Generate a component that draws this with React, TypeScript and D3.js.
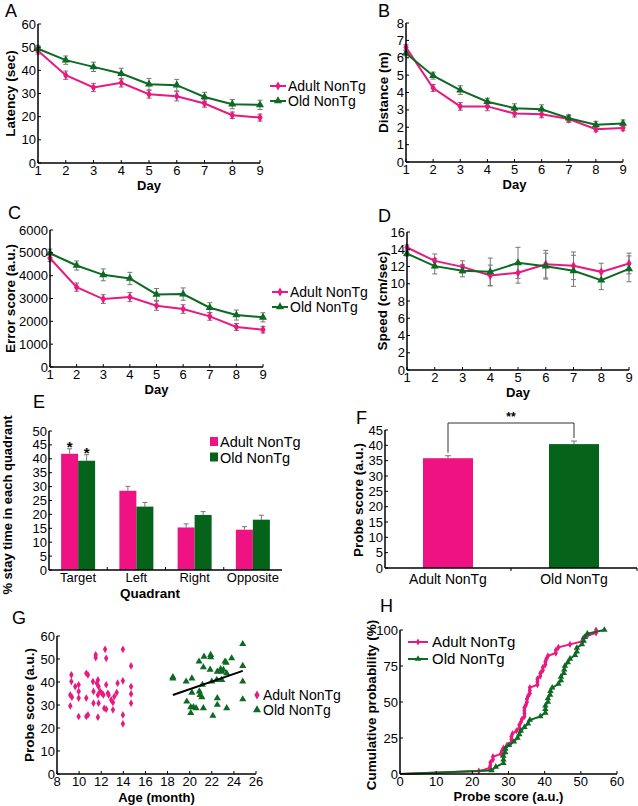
import React from 'react';
import * as d3 from 'd3';

const FONT = '"Liberation Sans", Arial, sans-serif';
const PINK = '#e8197f';
const GREEN = '#0c6a22';
const BAR_PINK = '#ef1283';
const BAR_GREEN = '#06641a';
const ERR = '#777777';
const TICK_FS = 13;

const days = [1, 2, 3, 4, 5, 6, 7, 8, 9];
const groupNames = ['Adult NonTg', 'Old NonTg'];

// A: latency (sec)
const latencyAdult = [48.5, 37.9, 32.6, 34.6, 29.7, 28.8, 25.7, 20.6, 19.6];
const latencyAdultErr = [1.5, 1.8, 1.8, 1.8, 1.7, 2.0, 1.6, 1.4, 1.5];
const latencyOld = [49.3, 44.4, 41.5, 38.6, 34.0, 33.6, 28.5, 25.4, 25.1];
const latencyOldErr = [1.5, 1.8, 2.0, 2.3, 2.5, 2.5, 2.0, 2.0, 2.0];

// B: distance (m)
const distanceAdult = [6.6, 4.26, 3.2, 3.2, 2.79, 2.75, 2.47, 1.89, 1.95];
const distanceAdultErr = [0.15, 0.2, 0.22, 0.25, 0.2, 0.2, 0.2, 0.15, 0.15];
const distanceOld = [6.26, 4.97, 4.14, 3.47, 3.1, 3.04, 2.52, 2.14, 2.22];
const distanceOldErr = [0.15, 0.2, 0.25, 0.2, 0.25, 0.25, 0.2, 0.2, 0.2];

// C: error score (a.u.)
const errorAdult = [4764, 3498, 2975, 3062, 2684, 2538, 2218, 1753, 1636];
const errorAdultErr = [150, 180, 190, 200, 200, 190, 170, 150, 140];
const errorOld = [4982, 4444, 4036, 3876, 3178, 3193, 2596, 2276, 2175];
const errorOldErr = [180, 200, 260, 270, 260, 270, 220, 220, 200];

// D: speed (cm/sec)
const speedAdult = [14.2, 12.65, 11.96, 10.96, 11.27, 12.27, 12.08, 11.38, 12.35];
const speedAdultErr = [0.3, 0.8, 0.7, 1.2, 1.2, 1.6, 1.6, 1.0, 1.2];
const speedOld = [13.5, 12.04, 11.5, 11.38, 12.42, 12.04, 11.5, 10.42, 11.73];
const speedOldErr = [0.3, 0.9, 0.7, 1.6, 1.8, 1.5, 1.8, 1.1, 1.5];

// E: % stay time per quadrant
const quadrants = ['Target', 'Left', 'Right', 'Opposite'];
const quadAdult = [41.8, 28.5, 15.3, 14.5];
const quadAdultErr = [1.8, 1.6, 1.3, 1.1];
const quadOld = [39.3, 22.8, 19.8, 18.1];
const quadOldErr = [2.2, 1.5, 1.2, 1.6];
const quadSig = [true, false, false, false];

// F: probe score
const probeMeans = [35.8, 40.4];
const probeErr = [0.8, 1.0];

// G: age vs probe score (individual animals)
const adultAge = [9.3, 9.3, 9.2, 9.35, 9.2, 9.65, 9.96, 9.96, 9.96, 9.96, 10.65, 10.8, 10.65, 10.65, 10.8,
  11.25, 11.3, 11.3, 11.5, 11.5, 11.6, 11.7, 11.76, 11.7, 11.76, 11.7, 11.9, 12.06, 12.2, 12.27,
  12.35, 12.45, 12.45, 12.45, 12.6, 12.67, 12.9, 13.06, 13.06, 13.18, 13.4, 13.48, 13.96, 13.96, 13.96,
  13.96, 14.7, 14.7, 14.7, 14.7];
const adultScore = [43.1, 40.2, 34.4, 33.4, 29.6, 38.0, 38.8, 35.9, 33.0, 25.0, 43.8, 43.1, 33.0, 25.0, 25.7,
  40.2, 35.9, 30.8, 51.8, 50.6, 39.5, 40.9, 38.0, 34.4, 30.8, 24.7, 35.9, 35.1, 34.4, 28.6,
  54.2, 50.3, 38.8, 28.2, 35.1, 34.4, 32.2, 31.1, 27.9, 33.7, 35.4, 39.5, 40.5, 54.2, 25.7,
  21.8, 47.0, 38.0, 34.8, 30.8];
const oldAge = [18.48, 18.48, 19.68, 19.74, 20.2, 20.2, 20.1, 20.34, 20.1, 20.58, 20.85, 20.88, 20.94, 21.1,
  21.15, 21.24, 21.24, 21.3, 21.9, 21.9, 21.85, 22.0, 22.1, 22.45, 22.5, 22.5, 22.5, 22.9, 22.9,
  23.05, 23.2, 23.3, 23.35, 23.8, 24.8, 24.8, 24.8, 24.8, 22.8, 23.35];
const oldScore = [42.1, 41.5, 40.2, 31.5, 41.6, 35.4, 29.1, 29.1, 26.5, 28.6, 48.9, 35.9, 34.4, 33.4,
  38.8, 46.4, 28.6, 51.0, 51.8, 50.8, 45.4, 40.2, 25.3, 40.9, 44.5, 33.0, 30.1, 40.9, 44.5,
  45.3, 48.9, 48.4, 28.6, 50.3, 56.5, 47.0, 40.2, 32.5, 45.6, 43.8];

const diamond = d3.symbol().type(d3.symbolDiamond).size(24)() as string;
const diamondScatter = d3.symbol().type(d3.symbolDiamond).size(17)() as string;
const diamondSmall = d3.symbol().type(d3.symbolDiamond).size(15)() as string;
const triangle = d3.symbol().type(d3.symbolTriangle).size(28)() as string;
const triangleScatter = d3.symbol().type(d3.symbolTriangle).size(22)() as string;
const triangleSmall = d3.symbol().type(d3.symbolTriangle).size(18)() as string;

const txt = { fontFamily: FONT, fill: '#000' } as const;

function YLabel({ x, y, text, size = 13.5 }: { x: number; y: number; text: string; size?: number }) {
  return (
    <text transform={`translate(${x},${y}) rotate(-90)`} textAnchor="middle" fontSize={size} fontWeight="bold" style={txt}>
      {text}
    </text>
  );
}

function Letter({ x, y, t }: { x: number; y: number; t: string }) {
  return <text x={x} y={y} fontSize={18} style={txt}>{t}</text>;
}

type Series = { values: number[]; errs: number[]; color: string; marker: string };

function LinePanel(props: {
  left: number; right: number; top: number; bottom: number; yMax: number; yStep: number;
  series: Series[]; ylabel: string; ylx: number; letter: string; lx: number; ly: number;
  legend?: { x: number; y: number };
}) {
  const { left, right, top, bottom, yMax, yStep, series, ylabel, ylx, letter, lx, ly, legend } = props;
  const x = d3.scaleLinear().domain([1, 9]).range([left, right]);
  const y = d3.scaleLinear().domain([0, yMax]).range([bottom, top]);
  const yTicks = d3.range(0, yMax + yStep / 2, yStep);
  const line = d3.line<number>().x((_, i) => x(days[i])).y((d) => y(d));
  return (
    <g>
      <Letter x={lx} y={ly} t={letter} />
      {series.map((s, si) => (
        <g key={si}>
          {s.values.map((v, i) => (
            <g key={i} stroke={ERR} strokeWidth={1}>
              <line x1={x(days[i])} x2={x(days[i])} y1={y(v - s.errs[i])} y2={y(v + s.errs[i])} />
              <line x1={x(days[i]) - 2.5} x2={x(days[i]) + 2.5} y1={y(v - s.errs[i])} y2={y(v - s.errs[i])} />
              <line x1={x(days[i]) - 2.5} x2={x(days[i]) + 2.5} y1={y(v + s.errs[i])} y2={y(v + s.errs[i])} />
            </g>
          ))}
        </g>
      ))}
      {series.map((s, si) => (
        <g key={si}>
          <path d={line(s.values) as string} fill="none" stroke={s.color} strokeWidth={2} />
          {s.values.map((v, i) => (
            <path key={i} d={s.marker} transform={`translate(${x(days[i])},${y(v)})`} fill={s.color} />
          ))}
        </g>
      ))}
      <line x1={left} x2={left} y1={top} y2={bottom} stroke="#000" strokeWidth={1.5} />
      <line x1={left} x2={right} y1={bottom} y2={bottom} stroke="#000" strokeWidth={1.5} />
      {yTicks.map((t) => (
        <g key={t}>
          <line x1={left} x2={left + 3} y1={y(t)} y2={y(t)} stroke="#000" />
          <text x={left - 2} y={y(t) + 4.5} textAnchor="end" fontSize={TICK_FS} style={txt}>{t}</text>
        </g>
      ))}
      {days.map((d) => (
        <g key={d}>
          <line x1={x(d)} x2={x(d)} y1={bottom} y2={bottom - 3} stroke="#000" />
          <text x={x(d)} y={bottom + 12} textAnchor="middle" fontSize={TICK_FS} style={txt}>{d}</text>
        </g>
      ))}
      <text x={(left + right) / 2} y={bottom + 27} textAnchor="middle" fontSize={13} fontWeight="bold" style={txt}>Day</text>
      <YLabel x={ylx} y={(top + bottom) / 2} text={ylabel} />
      {legend &&
        series.map((s, si) => (
          <g key={si} transform={`translate(${legend.x},${legend.y + si * 15})`}>
            <line x1={0} x2={16} y1={0} y2={0} stroke={s.color} strokeWidth={2} />
            <path d={s.marker} transform="translate(8,0)" fill={s.color} />
            <text x={18} y={5} fontSize={14} style={txt}>{groupNames[si]}</text>
          </g>
        ))}
    </g>
  );
}

function PanelE() {
  const left = 49, right = 282, top = 431, bottom = 570;
  const x = d3.scaleBand().domain(quadrants).range([left, right]);
  const y = d3.scaleLinear().domain([0, 50]).range([bottom, top]);
  const bw = 17;
  const yTicks = d3.range(0, 51, 5);
  return (
    <g>
      <Letter x={33} y={408} t="E" />
      {quadrants.map((q, i) => {
        const c = (x(q) as number) + x.bandwidth() / 2;
        const bars = [
          { v: quadAdult[i], e: quadAdultErr[i], x0: c - bw, fill: BAR_PINK },
          { v: quadOld[i], e: quadOldErr[i], x0: c, fill: BAR_GREEN },
        ];
        return (
          <g key={q}>
            {bars.map((b, bi) => (
              <g key={bi}>
                <line x1={b.x0 + bw / 2} x2={b.x0 + bw / 2} y1={y(b.v)} y2={y(b.v + b.e)} stroke={ERR} />
                <line x1={b.x0 + bw / 2 - 2.5} x2={b.x0 + bw / 2 + 2.5} y1={y(b.v + b.e)} y2={y(b.v + b.e)} stroke={ERR} />
                <rect x={b.x0} y={y(b.v)} width={bw} height={bottom - y(b.v)} fill={b.fill} />
                {quadSig[i] && (
                  <text x={b.x0 + bw / 2} y={y(b.v + b.e) + 3} textAnchor="middle" fontSize={15} fontWeight="bold" style={txt}>*</text>
                )}
              </g>
            ))}
            <text x={c} y={582} textAnchor="middle" fontSize={TICK_FS} style={txt}>{q}</text>
            {i > 0 && <line x1={x(q)} x2={x(q)} y1={bottom} y2={bottom - 3} stroke="#000" />}
          </g>
        );
      })}
      <line x1={left} x2={left} y1={top} y2={bottom} stroke="#000" strokeWidth={1.5} />
      <line x1={left} x2={right} y1={bottom} y2={bottom} stroke="#000" strokeWidth={1.5} />
      {yTicks.map((t) => (
        <g key={t}>
          <line x1={left} x2={left + 3} y1={y(t)} y2={y(t)} stroke="#000" />
          <text x={left - 2} y={y(t) + 4.5} textAnchor="end" fontSize={TICK_FS} style={txt}>{t}</text>
        </g>
      ))}
      <text x={150} y={598} textAnchor="middle" fontSize={13.5} fontWeight="bold" style={txt}>Quadrant</text>
      <YLabel x={12} y={505} text="% stay time in each quadrant" size={13} />
      {[BAR_PINK, BAR_GREEN].map((c, i) => (
        <g key={i} transform={`translate(210,${437 + i * 15.5})`}>
          <rect x={0} y={0} width={8} height={9} fill={c} />
          <text x={10} y={10} fontSize={14.5} style={txt}>{groupNames[i]}</text>
        </g>
      ))}
    </g>
  );
}

function PanelF() {
  const left = 385, right = 637, top = 430, bottom = 568;
  const x = d3.scaleBand().domain(groupNames).range([left, right]);
  const y = d3.scaleLinear().domain([0, 45]).range([bottom, top]);
  const bw = 50;
  const fills = [BAR_PINK, BAR_GREEN];
  const centers = groupNames.map((g) => (x(g) as number) + x.bandwidth() / 2);
  const bracketY = 423;
  return (
    <g>
      <Letter x={356} y={424} t="F" />
      {groupNames.map((g, i) => {
        const c = centers[i];
        return (
          <g key={g}>
            <line x1={c} x2={c} y1={y(probeMeans[i])} y2={y(probeMeans[i] + probeErr[i])} stroke={ERR} />
            <line x1={c - 3} x2={c + 3} y1={y(probeMeans[i] + probeErr[i])} y2={y(probeMeans[i] + probeErr[i])} stroke={ERR} />
            <rect x={c - bw / 2} y={y(probeMeans[i])} width={bw} height={bottom - y(probeMeans[i])} fill={fills[i]} />
            <text x={c} y={584} textAnchor="middle" fontSize={14} style={txt}>{g}</text>
            <line x1={c} x2={c} y1={bracketY} y2={y(probeMeans[i] + probeErr[i]) - 3} stroke="#333" />
          </g>
        );
      })}
      <line x1={centers[0]} x2={centers[1]} y1={bracketY} y2={bracketY} stroke="#333" />
      <text x={(centers[0] + centers[1]) / 2} y={421} textAnchor="middle" fontSize={12} fontWeight="bold" style={txt}>**</text>
      <line x1={left} x2={left} y1={top} y2={bottom} stroke="#000" strokeWidth={1.5} />
      <line x1={left} x2={right} y1={bottom} y2={bottom} stroke="#000" strokeWidth={1.5} />
      <line x1={x(groupNames[1])} x2={x(groupNames[1])} y1={bottom} y2={bottom + 3} stroke="#000" />
      <line x1={right} x2={right} y1={bottom} y2={bottom + 3} stroke="#000" />
      {d3.range(0, 46, 5).map((t) => (
        <g key={t}>
          <line x1={left} x2={left + 3} y1={y(t)} y2={y(t)} stroke="#000" />
          <text x={left - 2} y={y(t) + 4.5} textAnchor="end" fontSize={TICK_FS} style={txt}>{t}</text>
        </g>
      ))}
      <YLabel x={363} y={500} text="Probe score (a.u.)" />
    </g>
  );
}

function PanelG() {
  const left = 57, right = 256, top = 636, bottom = 774;
  const x = d3.scaleLinear().domain([8, 26]).range([left, right]);
  const y = d3.scaleLinear().domain([0, 60]).range([bottom, top]);
  const mx = d3.mean(oldAge) as number;
  const my = d3.mean(oldScore) as number;
  const sxy = d3.sum(oldAge.map((a, i) => (a - mx) * (oldScore[i] - my)));
  const sxx = d3.sum(oldAge.map((a) => (a - mx) ** 2));
  const slope = sxy / sxx;
  const [ax0, ax1] = d3.extent(oldAge) as [number, number];
  return (
    <g>
      <Letter x={12} y={624} t="G" />
      {adultAge.map((a, i) => (
        <path key={'a' + i} d={diamondScatter} transform={`translate(${x(a)},${y(adultScore[i])})`} fill={PINK} />
      ))}
      {oldAge.map((a, i) => (
        <path key={'o' + i} d={triangleScatter} transform={`translate(${x(a)},${y(oldScore[i])})`} fill={GREEN} />
      ))}
      <line x1={x(ax0)} x2={x(ax1)} y1={y(my + slope * (ax0 - mx))} y2={y(my + slope * (ax1 - mx))} stroke="#000" strokeWidth={2} />
      <line x1={left} x2={left} y1={top} y2={bottom} stroke="#000" strokeWidth={1.5} />
      <line x1={left} x2={right} y1={bottom} y2={bottom} stroke="#000" strokeWidth={1.5} />
      {d3.range(0, 61, 10).map((t) => (
        <g key={t}>
          <line x1={left} x2={left + 3} y1={y(t)} y2={y(t)} stroke="#000" />
          <text x={left - 2} y={y(t) + 4.5} textAnchor="end" fontSize={TICK_FS} style={txt}>{t}</text>
        </g>
      ))}
      {d3.range(8, 27, 2).map((t) => (
        <g key={t}>
          <line x1={x(t)} x2={x(t)} y1={bottom} y2={bottom - 3} stroke="#000" />
          <text x={x(t)} y={786} textAnchor="middle" fontSize={TICK_FS} style={txt}>{t}</text>
        </g>
      ))}
      <text x={(left + right) / 2} y={802} textAnchor="middle" fontSize={13} fontWeight="bold" style={txt}>Age (month)</text>
      <YLabel x={34} y={705} text="Probe score (a.u.)" />
      {[{ m: diamond, c: PINK }, { m: triangle, c: GREEN }].map((l, i) => (
        <g key={i} transform={`translate(257,${695 + i * 15})`}>
          <path d={l.m} fill={l.c} />
          <text x={6} y={5} fontSize={14} style={txt}>{groupNames[i]}</text>
        </g>
      ))}
    </g>
  );
}

function PanelH() {
  const left = 400, right = 617, top = 630, bottom = 774;
  const x = d3.scaleLinear().domain([0, 60]).range([left, right]);
  const y = d3.scaleLinear().domain([0, 100]).range([bottom, top]);
  const ecdf = (vals: number[]) => {
    const s = [...vals].sort(d3.ascending);
    return [[0, 0], ...s.map((v, i) => [v, ((i + 1) / s.length) * 100])] as [number, number][];
  };
  const curves = [
    { pts: ecdf(adultScore), c: PINK, m: diamondSmall },
    { pts: ecdf(oldScore), c: GREEN, m: triangleSmall },
  ];
  const line = d3.line<[number, number]>().x((d) => x(d[0])).y((d) => y(d[1]));
  return (
    <g>
      <Letter x={380} y={612} t="H" />
      {curves.map((cv, ci) => (
        <g key={ci}>
          <path d={line(cv.pts) as string} fill="none" stroke={cv.c} strokeWidth={2} />
          {cv.pts.slice(1).map((p, i) => (
            <path key={i} d={cv.m} transform={`translate(${x(p[0])},${y(p[1])})`} fill={cv.c} />
          ))}
        </g>
      ))}
      <line x1={left} x2={left} y1={top} y2={bottom} stroke="#000" strokeWidth={1.5} />
      <line x1={left} x2={right} y1={bottom} y2={bottom} stroke="#000" strokeWidth={1.5} />
      {[0, 25, 50, 75, 100].map((t) => (
        <g key={t}>
          <line x1={left} x2={left + 3} y1={y(t)} y2={y(t)} stroke="#000" />
          <text x={left - 2} y={y(t) + 4.5} textAnchor="end" fontSize={TICK_FS} style={txt}>{t}</text>
        </g>
      ))}
      {d3.range(0, 61, 10).map((t) => (
        <g key={t}>
          <line x1={x(t)} x2={x(t)} y1={bottom} y2={bottom - 3} stroke="#000" />
          <text x={x(t)} y={786} textAnchor="middle" fontSize={TICK_FS} style={txt}>{t}</text>
        </g>
      ))}
      <text x={(left + right) / 2} y={801} textAnchor="middle" fontSize={13} fontWeight="bold" style={txt}>Probe score (a.u.)</text>
      <YLabel x={376} y={705} text="Cumulative probability (%)" />
      {curves.map((cv, i) => (
        <g key={i} transform={`translate(408,${642 + i * 17})`}>
          <line x1={0} x2={20} y1={0} y2={0} stroke={cv.c} strokeWidth={2} />
          <path d={cv.m} transform="translate(10,0)" fill={cv.c} />
          <text x={24} y={5} fontSize={15} style={txt}>{groupNames[i]}</text>
        </g>
      ))}
    </g>
  );
}

export default function App() {
  return (
    <svg width={638} height={806} style={{ position: 'absolute', left: 0, top: 0, background: '#fff' }}>
      <rect width={638} height={806} fill="#fff" />
      <LinePanel left={38} right={260} top={24} bottom={163} yMax={60} yStep={10}
        series={[
          { values: latencyAdult, errs: latencyAdultErr, color: PINK, marker: diamond },
          { values: latencyOld, errs: latencyOldErr, color: GREEN, marker: triangle },
        ]}
        ylabel="Latency (sec)" ylx={15} letter="A" lx={5} ly={17} legend={{ x: 270, y: 86 }} />
      <LinePanel left={406} right={623} top={23} bottom={162} yMax={8} yStep={1}
        series={[
          { values: distanceAdult, errs: distanceAdultErr, color: PINK, marker: diamond },
          { values: distanceOld, errs: distanceOldErr, color: GREEN, marker: triangle },
        ]}
        ylabel="Distance (m)" ylx={388} letter="B" lx={378} ly={17} />
      <LinePanel left={50} right={263} top={230} bottom={367} yMax={6000} yStep={1000}
        series={[
          { values: errorAdult, errs: errorAdultErr, color: PINK, marker: diamond },
          { values: errorOld, errs: errorOldErr, color: GREEN, marker: triangle },
        ]}
        ylabel="Error score (a.u.)" ylx={15} letter="C" lx={8} ly={219} legend={{ x: 272, y: 292 }} />
      <LinePanel left={407} right={629} top={232} bottom={370} yMax={16} yStep={2}
        series={[
          { values: speedAdult, errs: speedAdultErr, color: PINK, marker: diamond },
          { values: speedOld, errs: speedOldErr, color: GREEN, marker: triangle },
        ]}
        ylabel="Speed (cm/sec)" ylx={387} letter="D" lx={378} ly={222} />
      <PanelE />
      <PanelF />
      <PanelG />
      <PanelH />
    </svg>
  );
}
